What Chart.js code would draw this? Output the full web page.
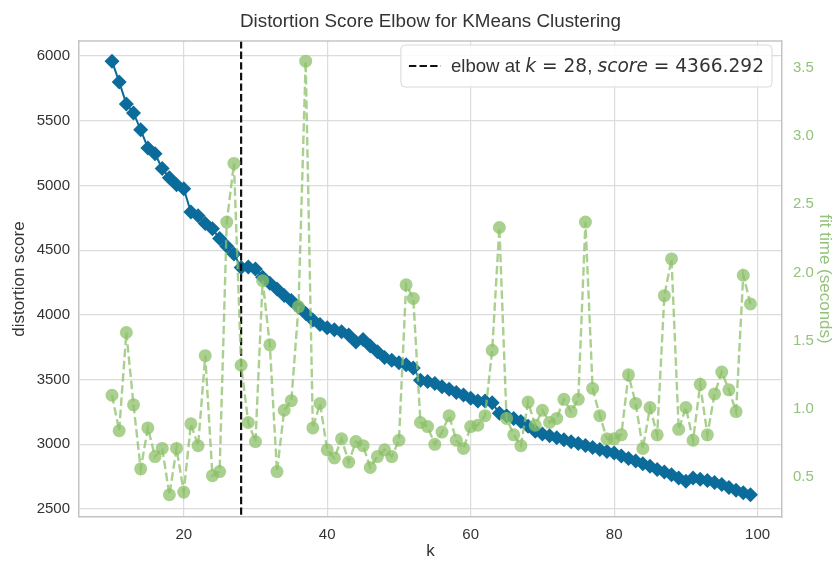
<!DOCTYPE html>
<html>
<head>
<meta charset="utf-8">
<title>Distortion Score Elbow for KMeans Clustering</title>
<script src="https://cdn.jsdelivr.net/npm/chart.js@4.4.1/dist/chart.umd.min.js"></script>
<style>
  html, body { margin: 0; padding: 0; background: #fff; }
</style>
</head>
<body>
<canvas id="elbow" width="835" height="563"></canvas>
<script>
// k values tried by the visualizer
var kValues = [10, 11, 12, 13, 14, 15, 16, 17, 18, 19,
  20, 21, 22, 23, 24, 25, 26, 27, 28, 29,
  30, 31, 32, 33, 34, 35, 36, 37, 38, 39,
  40, 41, 42, 43, 44, 45, 46, 47, 48, 49,
  50, 51, 52, 53, 54, 55, 56, 57, 58, 59,
  60, 61, 62, 63, 64, 65, 66, 67, 68, 69,
  70, 71, 72, 73, 74, 75, 76, 77, 78, 79,
  80, 81, 82, 83, 84, 85, 86, 87, 88, 89,
  90, 91, 92, 93, 94, 95, 96, 97, 98, 99];

// distortion score per k
var distortionScores = [5960, 5800, 5630, 5560, 5430, 5290, 5245, 5130, 5060, 5005,
  4975, 4795, 4765, 4705, 4665, 4590, 4530, 4470, 4366.292, 4370,
  4355, 4290, 4245, 4200, 4150, 4110, 4060, 4010, 3960, 3925,
  3900, 3885, 3870, 3845, 3790, 3810, 3760, 3715, 3670, 3650,
  3630, 3615, 3590, 3495, 3485, 3470, 3445, 3425, 3400, 3380,
  3355, 3335, 3335, 3320, 3240, 3220, 3200, 3175, 3140, 3100,
  3080, 3065, 3050, 3035, 3020, 3005, 2990, 2975, 2960, 2945,
  2932, 2910, 2890, 2870, 2850, 2830, 2805, 2785, 2765, 2740,
  2715, 2740, 2730, 2720, 2705, 2690, 2665, 2645, 2625, 2610];

// fit time in seconds per k
var fitTimes = [1.10, 0.84, 1.56, 1.03, 0.56, 0.86, 0.65, 0.71, 0.37, 0.71,
  0.39, 0.89, 0.73, 1.39, 0.51, 0.54, 2.37, 2.80, 1.32, 0.90,
  0.76, 1.94, 1.47, 0.54, 0.99, 1.06, 1.75, 3.55, 0.86, 1.04,
  0.70, 0.64, 0.78, 0.61, 0.76, 0.73, 0.57, 0.65, 0.70, 0.65,
  0.77, 1.91, 1.81, 0.90, 0.87, 0.74, 0.83, 0.95, 0.77, 0.71,
  0.87, 0.88, 0.95, 1.43, 2.33, 0.93, 0.81, 0.73, 1.05, 0.88,
  0.99, 0.90, 0.93, 1.07, 0.98, 1.07, 2.37, 1.15, 0.95, 0.78,
  0.78, 0.81, 1.25, 1.04, 0.71, 1.01, 0.81, 1.83, 2.10, 0.85,
  1.01, 0.77, 1.18, 0.81, 1.11, 1.27, 1.14, 0.98, 1.98, 1.77];

var elbowK = 28;
var elbowScore = 4366.292;

// tick labels
var kTicks = [20, 40, 60, 80, 100];
var scoreTicks = [2500, 3000, 3500, 4000, 4500, 5000, 5500, 6000];
var timeTicks = [0.5, 1.0, 1.5, 2.0, 2.5, 3.0, 3.5];

var BLUE = '#0b6c9b';
var GREEN = 'rgba(140,192,104,0.75)';
var GREEN_TEXT = '#93c27a';
var GRID = '#dcdcdc';
var SPINE = '#c4c4c4';
var TEXT = '#333333';
var SANS = "'Liberation Sans', Arial, sans-serif";
var MATH = "'DejaVu Sans', sans-serif";

function toPoints(ys) {
  return kValues.map(function(k, i) { return { x: k, y: ys[i] }; });
}

function fixedTicks(values) {
  return function(scale) {
    scale.ticks = values.map(function(v) { return { value: v }; });
  };
}

// draws the elbow line, the top spine, the title and the legend
var decorations = {
  id: 'decorations',
  afterDatasetDraw: function(chart, args) {
    if (args.index !== 0) return;
    var ctx = chart.ctx, area = chart.chartArea;
    var x = chart.scales.x.getPixelForValue(elbowK);
    ctx.save();
    ctx.strokeStyle = '#111';
    ctx.lineWidth = 2.2;
    ctx.setLineDash([7.4, 3.2]);
    ctx.beginPath();
    ctx.moveTo(x, area.top);
    ctx.lineTo(x, area.bottom);
    ctx.stroke();
    ctx.restore();
  },
  afterDraw: function(chart) {
    var ctx = chart.ctx, area = chart.chartArea;
    ctx.save();

    // top spine
    ctx.strokeStyle = SPINE;
    ctx.lineWidth = 1.5;
    ctx.beginPath();
    ctx.moveTo(area.left, area.top);
    ctx.lineTo(area.right, area.top);
    ctx.stroke();

    // title
    ctx.fillStyle = TEXT;
    ctx.font = '18.8px ' + SANS;
    ctx.textAlign = 'center';
    ctx.textBaseline = 'middle';
    ctx.fillText('Distortion Score Elbow for KMeans Clustering', (area.left + area.right) / 2, 22);

    // legend: elbow at k = 28, score = 4366.292
    var fs = '18.6px ';
    var parts = [
      { t: 'elbow at ', f: fs + SANS },
      { t: 'k', f: 'italic ' + fs + MATH },
      { t: ' = ' + elbowK, f: fs + MATH },
      { t: ', ', f: fs + SANS },
      { t: 'score', f: 'italic ' + fs + MATH },
      { t: ' = ' + elbowScore.toFixed(3), f: fs + MATH }
    ];
    var textW = 0;
    parts.forEach(function(p) { ctx.font = p.f; p.w = ctx.measureText(p.t).width; textW += p.w; });
    var boxW = 50 + textW + 8, boxH = 42;
    var bx = area.right - 10 - boxW, by = area.top + 4;
    ctx.fillStyle = 'rgba(255,255,255,0.85)';
    ctx.strokeStyle = '#d8d8d8';
    ctx.lineWidth = 1;
    ctx.beginPath();
    ctx.roundRect(bx, by, boxW, boxH, 4);
    ctx.fill();
    ctx.stroke();
    var my = by + boxH / 2;
    ctx.strokeStyle = '#111';
    ctx.lineWidth = 2.2;
    ctx.setLineDash([7.4, 3.2]);
    ctx.beginPath();
    ctx.moveTo(bx + 8, my);
    ctx.lineTo(bx + 40, my);
    ctx.stroke();
    ctx.setLineDash([]);
    ctx.fillStyle = TEXT;
    ctx.textAlign = 'left';
    ctx.textBaseline = 'middle';
    var tx = bx + 50;
    parts.forEach(function(p) { ctx.font = p.f; ctx.fillText(p.t, tx, my + 1); tx += p.w; });

    ctx.restore();
  }
};

new Chart(document.getElementById('elbow'), {
  type: 'line',
  data: {
    datasets: [
      {
        label: 'distortion score',
        data: toPoints(distortionScores),
        yAxisID: 'y',
        order: 2,
        borderColor: BLUE,
        backgroundColor: BLUE,
        borderWidth: 2,
        pointStyle: 'rectRot',
        pointRadius: 7.5,
        pointBorderWidth: 0,
        tension: 0
      },
      {
        label: 'fit time',
        data: toPoints(fitTimes),
        yAxisID: 'y1',
        order: 1,
        borderColor: GREEN,
        backgroundColor: GREEN,
        borderWidth: 2.4,
        borderDash: [8.5, 3.7],
        pointStyle: 'circle',
        pointRadius: 6.5,
        pointBorderWidth: 0,
        tension: 0
      }
    ]
  },
  options: {
    responsive: false,
    animation: false,
    devicePixelRatio: 1,
    events: [],
    layout: { padding: { top: 41, left: 0, right: 0, bottom: 0 } },
    plugins: { legend: { display: false }, tooltip: { enabled: false } },
    scales: {
      x: {
        type: 'linear',
        min: 5.4,
        max: 103.4,
        afterBuildTicks: fixedTicks(kTicks),
        afterFit: function(s) { s.height = 46; },
        grid: { color: GRID, lineWidth: 1.2, drawTicks: false },
        border: { color: SPINE, width: 1.5 },
        ticks: { color: TEXT, font: { family: SANS, size: 15 }, padding: 9,
          callback: function(v) { return String(v); } },
        title: { display: true, text: 'k', color: TEXT, font: { family: SANS, size: 17 }, padding: { top: 0, bottom: 1 } }
      },
      y: {
        type: 'linear',
        position: 'left',
        min: 2438,
        max: 6116,
        afterBuildTicks: fixedTicks(scoreTicks),
        afterFit: function(s) { s.width = 79; },
        grid: { color: GRID, lineWidth: 1.2, drawTicks: false },
        border: { color: SPINE, width: 1.5 },
        ticks: { color: TEXT, font: { family: SANS, size: 15 }, padding: 9,
          callback: function(v) { return String(v); } },
        title: { display: true, text: 'distortion score', color: TEXT, font: { family: SANS, size: 17 }, padding: { top: 9, bottom: 0 } }
      },
      y1: {
        type: 'linear',
        position: 'right',
        min: 0.207,
        max: 3.698,
        afterBuildTicks: fixedTicks(timeTicks),
        afterFit: function(s) { s.width = 53; },
        grid: { display: false, drawTicks: false },
        border: { color: SPINE, width: 1.5 },
        ticks: {
          color: GREEN_TEXT,
          font: { family: SANS, size: 15 },
          padding: 11,
          callback: function(v) { return v.toFixed(1); }
        },
        title: { display: true, text: 'fit time (seconds)', color: GREEN_TEXT, font: { family: SANS, size: 17 }, padding: { top: 0, bottom: 0 } }
      }
    }
  },
  plugins: [decorations]
});
</script>
</body>
</html>
